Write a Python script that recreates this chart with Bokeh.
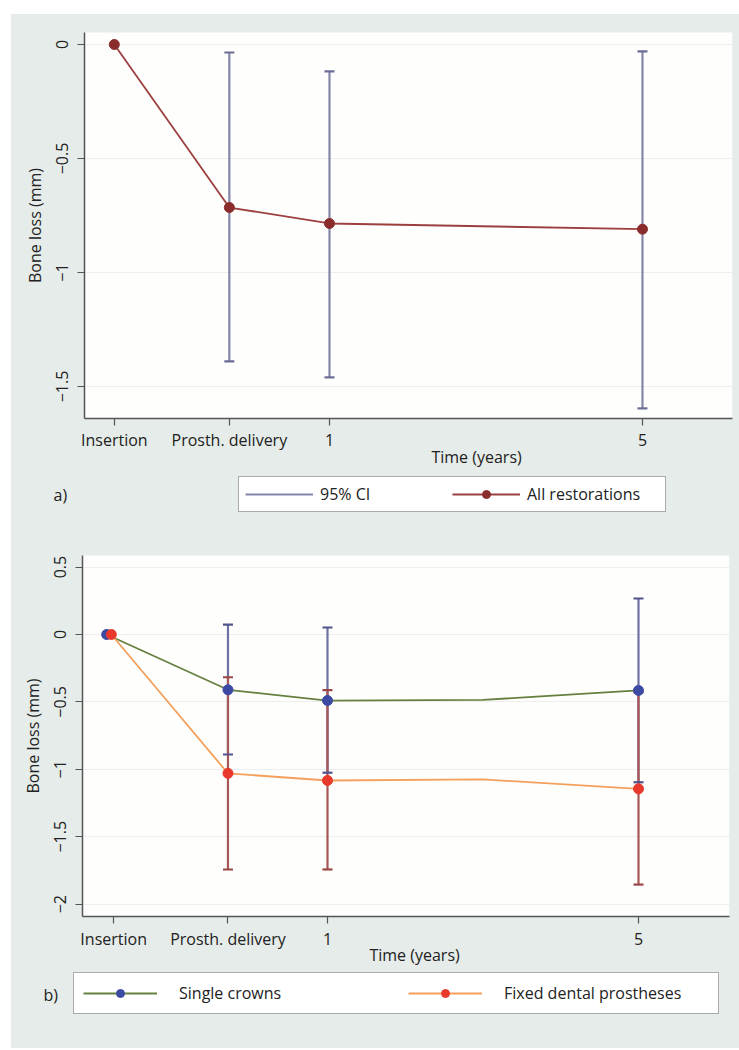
from bokeh.plotting import figure
from bokeh.models import (ColumnDataSource, FixedTicker, Legend, LegendItem, Label,
                          Range1d, BoxAnnotation, CDSView, IndexFilter, Spacer)
from bokeh.layouts import column, row
from bokeh.embed import file_html
from bokeh.resources import INLINE

FONT = "Open Sans"
BG = "#e6ece9"
INK = "#222222"

# ---- shared axis content ----
x_ticks = [-1.75, -0.28, 1, 5]
x_labels = ["Insertion", "Prosth. delivery", "1", "5"]
x_title = "Time (years)"
y_title = "Bone loss (mm)"

# ---- panel a: all restorations ----
a_x = [-1.75, -0.28, 1, 5]
a_mean = [0, -0.715, -0.785, -0.81]
a_ci_x = [-0.28, 1, 5]
a_ci_lo = [-1.39, -1.46, -1.596]
a_ci_hi = [-0.035, -0.118, -0.03]
a_yticks = [0, -0.5, -1, -1.5]
a_ylabels = ["0", "−0.5", "−1", "−1.5"]

# ---- panel b: single crowns vs fixed dental prostheses ----
sc_x = [-1.84, -0.28, 1, 3, 5]
sc_mean = [0, -0.41, -0.49, -0.485, -0.415]
sc_ci_x = [-0.28, 1, 5]
sc_ci_lo = [-0.89, -1.025, -1.096]
sc_ci_hi = [0.074, 0.052, 0.267]

fdp_x = [-1.78, -0.28, 1, 3, 5]
fdp_mean = [0, -1.03, -1.083, -1.075, -1.145]
fdp_ci_x = [-0.28, 1, 5]
fdp_ci_lo = [-1.743, -1.743, -1.855]
fdp_ci_hi = [-0.317, -0.413, -0.43]

b_yticks = [0.5, 0, -0.5, -1, -1.5, -2]
b_ylabels = ["0.5", "0", "−0.5", "−1", "−1.5", "−2"]
marker_idx = [0, 1, 2, 4]  # observed time points (line also passes through year 3)


def make_fig(height, xr, yr, wx, wy, yticks, ylabels):
    """Frame covers the whole panel; wx/wy is the white plotting region."""
    p = figure(width=728, height=height, x_range=Range1d(*xr), y_range=Range1d(*yr),
               output_backend="svg", toolbar_location=None, min_border=0,
               background_fill_color=BG, border_fill_color=BG,
               outline_line_color=None, styles={"background-color": BG})
    # white plotting region (drawn below the grid)
    p.add_layout(BoxAnnotation(left=wx[0], right=wx[1], bottom=wy[0], top=wy[1],
                               fill_color="#fefefd", fill_alpha=1.0, line_color=None,
                               level="image"))
    # grey side strips hide grid lines outside the white region
    for kw in (dict(right=wx[0]), dict(left=wx[1])):
        p.add_layout(BoxAnnotation(fill_color=BG, fill_alpha=1.0, line_color=None,
                                   level="underlay", **kw))
    xa, ya = p.xaxis[0], p.yaxis[0]
    xa.fixed_location = wy[0]
    xa.bounds = wx
    ya.fixed_location = wx[0]
    ya.bounds = wy
    xa.ticker = FixedTicker(ticks=x_ticks)
    xa.major_label_overrides = dict(zip(x_ticks, x_labels))
    ya.ticker = FixedTicker(ticks=yticks)
    ya.major_label_overrides = dict(zip(yticks, ylabels))
    ya.major_label_orientation = "vertical"
    ya.axis_label = y_title
    for ax in (xa, ya):
        ax.axis_line_color = "#555555"
        ax.axis_line_width = 1.5
        ax.major_tick_line_color = "#555555"
        ax.major_tick_line_width = 1.2
        ax.major_tick_out = 7
        ax.major_tick_in = 0
        ax.minor_tick_line_color = None
        ax.major_label_text_font = FONT
        ax.major_label_text_font_size = "16px"
        ax.major_label_text_color = INK
        ax.axis_label_text_font = FONT
        ax.axis_label_text_font_size = "16px"
        ax.axis_label_text_font_style = "normal"
        ax.axis_label_text_color = INK
    xa.major_label_standoff = 4
    ya.major_label_standoff = 9
    ya.axis_label_standoff = 8
    p.xgrid.visible = False
    p.ygrid.grid_line_color = "#eeeeee"
    p.ygrid.grid_line_width = 1.2
    return p


def text_label(p, x, y, txt, align="center"):
    p.add_layout(Label(x=x, y=y, text=txt, text_font=FONT, text_font_size="16px",
                       text_color=INK, text_align=align, text_baseline="middle"))


# ================= panel a =================
pa = make_fig(534, (-3.064, 6.240), (-2.2105, 0.1316), (-2.131, 6.150), (-1.640, 0.0526),
              a_yticks, a_ylabels)

src_a = ColumnDataSource(dict(x=a_x, y=a_mean))
src_aci = ColumnDataSource(dict(x=a_ci_x, lo=a_ci_lo, hi=a_ci_hi))
stem_a = pa.segment(x0="x", y0="lo", x1="x", y1="hi", source=src_aci,
                    line_color="#8386ab", line_width=2.2)
for key in ("lo", "hi"):
    pa.scatter(x="x", y=key, source=src_aci, marker="dash", size=10,
               line_color="#6a6c93", line_width=2.2)
line_a = pa.line(x="x", y="y", source=src_a, line_color="#9c3f3f", line_width=1.8)
pts_a = pa.scatter(x="x", y="y", source=src_a, size=10, fill_color="#8b2c2c",
                   line_color="#8b2c2c")

text_label(pa, 2.88, -1.811, x_title)
text_label(pa, -2.527, -1.974, "a)", align="left")

leg_a = Legend(items=[LegendItem(label="95% CI", renderers=[stem_a]),
                      LegendItem(label="All restorations", renderers=[line_a, pts_a])],
               orientation="horizontal", location=(227, 36), padding=6, spacing=0,
               margin=0, glyph_width=68, glyph_height=20, label_standoff=7, label_width=132,
               label_text_font=FONT, label_text_font_size="16px", label_text_color=INK,
               border_line_color="#555555", border_line_width=1.5,
               background_fill_color="white", background_fill_alpha=1.0)
pa.add_layout(leg_a)

# ================= panel b =================
pb = make_fig(500, (-3.064, 6.299), (-3.071, 0.638), (-2.151, 6.170), (-2.092, 0.586),
              b_yticks, b_ylabels)

src_sc = ColumnDataSource(dict(x=sc_x, y=sc_mean))
src_fdp = ColumnDataSource(dict(x=fdp_x, y=fdp_mean))
src_scci = ColumnDataSource(dict(x=sc_ci_x, lo=sc_ci_lo, hi=sc_ci_hi))
src_fdpci = ColumnDataSource(dict(x=fdp_ci_x, lo=fdp_ci_lo, hi=fdp_ci_hi))

pb.segment(x0="x", y0="lo", x1="x", y1="hi", source=src_scci,
           line_color="#6d71a3", line_width=2.2)
pb.segment(x0="x", y0="lo", x1="x", y1="hi", source=src_fdpci,
           line_color="#a85656", line_width=2.2)
for src, col in ((src_scci, "#50548a"), (src_fdpci, "#9a4747")):
    for key in ("lo", "hi"):
        pb.scatter(x="x", y=key, source=src, marker="dash", size=10,
                   line_color=col, line_width=2.2)

line_sc = pb.line(x="x", y="y", source=src_sc, line_color="#66803f", line_width=1.8)
line_fdp = pb.line(x="x", y="y", source=src_fdp, line_color="#f4a05c", line_width=1.8)
pts_sc = pb.scatter(x="x", y="y", source=src_sc, view=CDSView(filter=IndexFilter(marker_idx)),
                    size=10, fill_color="#3c4aa3", line_color="#3c4aa3")
pts_fdp = pb.scatter(x="x", y="y", source=src_fdp, view=CDSView(filter=IndexFilter(marker_idx)),
                     size=10, fill_color="#e8392c", line_color="#e8392c")

text_label(pb, 2.12, -2.381, x_title)
text_label(pb, -2.653, -2.671, "b)", align="left")

leg_b = Legend(items=[LegendItem(label="Single crowns", renderers=[line_sc, pts_sc]),
                      LegendItem(label="Fixed dental prostheses", renderers=[line_fdp, pts_fdp])],
               orientation="horizontal", location=(62, 34), padding=9, spacing=24,
               margin=0, glyph_width=74, glyph_height=20, label_standoff=22, label_width=205,
               label_text_font=FONT, label_text_font_size="16px", label_text_color=INK,
               border_line_color="#555555", border_line_width=1.5,
               background_fill_color="white", background_fill_alpha=1.0)
pb.add_layout(leg_b)

panels = column(pa, pb, styles={"background-color": BG})
layout = column(Spacer(height=14), row(Spacer(width=11), panels))

open("out.html", "w").write(file_html(layout, INLINE))
